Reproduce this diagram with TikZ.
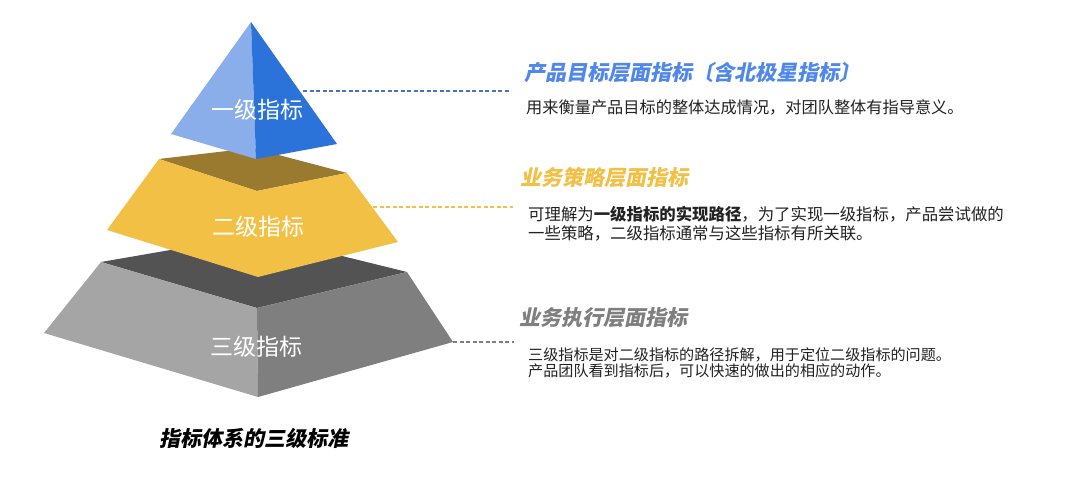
\documentclass[tikz,border=0pt]{standalone}
\usepackage{fontspec}
\setmainfont{Noto Sans CJK SC}
\newfontfamily\slanthei{Noto Sans CJK SC}[FakeSlant=0.2]
\usetikzlibrary{positioning}

\definecolor{topLight}{HTML}{8AAEE9}
\definecolor{topDark}{HTML}{2B72D9}
\definecolor{midGold}{HTML}{F2C045}
\definecolor{midShade}{HTML}{9A7A2E}
\definecolor{lowLight}{HTML}{A5A5A5}
\definecolor{lowDark}{HTML}{7F7F7F}
\definecolor{lowShade}{HTML}{535353}
\definecolor{headBlue}{HTML}{4F87EB}
\definecolor{lineBlue}{HTML}{4A72C4}
\definecolor{textGray}{HTML}{222222}

\begin{document}
\begin{tikzpicture}[x=1pt, y=-1pt,
    level/.style={white, font=\fontsize{23}{23}\selectfont},
    head/.style={anchor=west, font=\slanthei\bfseries\fontsize{21}{22}\selectfont},
    body/.style={anchor=west, align=left, text=textGray, inner sep=0pt, font=\fontsize{16.2}{19}\selectfont},
    link/.style={dash pattern=on 4pt off 2.5pt, line width=1.2pt}]
    \useasboundingbox[fill=white] (0,0) rectangle (1080,481);

    \begin{scope}
    % bottom layer
    \fill[lowShade] (101,262) -- (257,235) -- (407,272) -- (257,308) -- cycle;
    \fill[lowLight] (101,262) -- (257,308) -- (258,397) -- (44,333) -- cycle;
    \fill[lowDark] (257,308) -- (407,272) -- (453,342) -- (258,397) -- cycle;
    \node[level] (lvThree) at (256,347) {三级指标};
    \coordinate (lowTip) at (453,342);
    \end{scope}

    \begin{scope}
    % middle layer
    \fill[midShade] (159,159) -- (252,148) -- (347,173) -- (257,191) -- cycle;
    \fill[midGold] (159,159) -- (257,191) -- (347,173) -- (398,242) -- (258,277) -- (107,230) -- cycle;
    \node[level] (lvTwo) at (258,227) {二级指标};
    \coordinate (midTip) at (373,207);
    \end{scope}

    \begin{scope}
    % top layer
    \fill[topLight] (251,22) -- (256,159) -- (171,134) -- cycle;
    \fill[topDark] (251,22) -- (337,144) -- (256,159) -- cycle;
    \node[level] (lvOne) at (257,110) {一级指标};
    \coordinate (topTip) at (303,91);
    \end{scope}

    \node[font=\slanthei\bfseries\fontsize{21}{22}\selectfont] (caption) at (254,438) {指标体系的三级标准};

    % right column
    \node[head, text=headBlue] (headOne) at (521,73) {产品目标层面指标〔含北极星指标〕};
    \node[body] (bodyOne) at (526,107) {用来衡量产品目标的整体达成情况，对团队整体有指导意义。};
    \node[head, text=midGold] (headTwo) at (517,178) {业务策略层面指标};
    \node[body, font=\fontsize{16.4}{19}\selectfont] (bodyTwo) at (528,224) {可理解为\textbf{一级指标的实现路径}，为了实现一级指标，产品尝试做的\\一些策略，二级指标通常与这些指标有所关联。};
    \node[head, text=lowDark] (headThree) at (516,318) {业务执行层面指标};
    \node[body, font=\fontsize{15.1}{16.5}\selectfont] (bodyThree) at (528,363) {三级指标是对二级指标的路径拆解，用于定位二级指标的问题。\\产品团队看到指标后，可以快速的做出的相应的动作。};

    \coordinate (topEnd) at (511,91);
    \coordinate (midEnd) at (513,207);
    \coordinate (lowEnd) at (514,342);
    \draw[link, lineBlue] (topTip) -- (topEnd);
    \draw[link, midGold] (midTip) -- (midEnd);
    \draw[link, lowDark] (lowTip) -- (lowEnd);
\end{tikzpicture}
\end{document}
